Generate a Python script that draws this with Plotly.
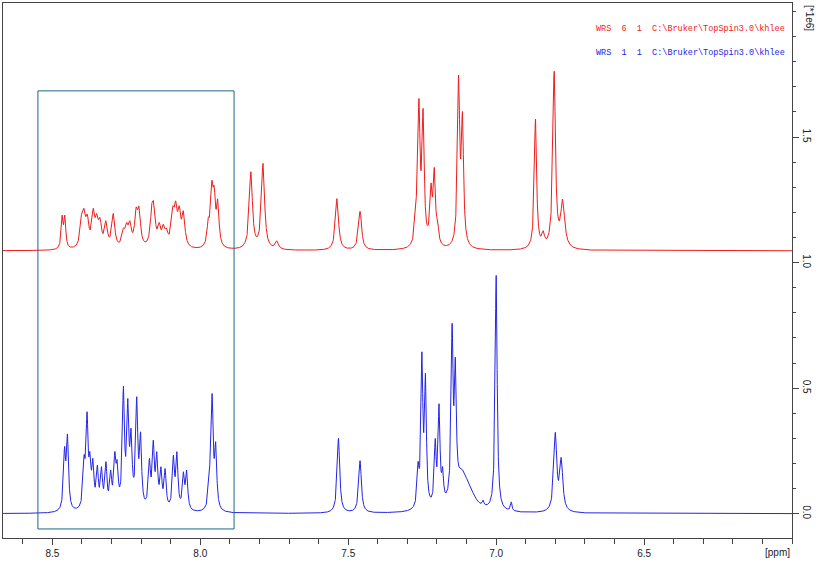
import numpy as np
import plotly.graph_objects as go

# ---------------- data (ppm, intensity [*1e6]) ----------------
red_label = "WRS\u00a0\u00a06\u00a0\u00a01\u00a0\u00a0C:\\Bruker\\TopSpin3.0\\khlee"
blue_label = "WRS\u00a0\u00a01\u00a0\u00a01\u00a0\u00a0C:\\Bruker\\TopSpin3.0\\khlee"

red_offset = 1.047
red_ppm = [8.467, 8.458, 8.401, 8.393, 8.382, 8.362, 8.350, 8.339, 8.319, 8.294,
           8.260, 8.249, 8.238, 8.217, 8.207, 8.164, 8.157, 8.139, 8.125, 8.114,
           8.093, 8.083, 8.071, 8.057, 7.973, 7.961, 7.953, 7.941,
           7.829, 7.788, 7.741, 7.538, 7.460,
           7.271, 7.261, 7.247, 7.232, 7.220, 7.209, 7.198, 7.127, 7.114,
           6.875, 6.867, 6.841, 6.804, 6.775]
red_height = [0.142, 0.142, 0.153, 0.169, 0.146, 0.169, 0.149, 0.133, 0.120, 0.149,
              0.090, 0.113, 0.120, 0.173, 0.177, 0.186, 0.195, 0.113, 0.106, 0.090,
              0.177, 0.199, 0.179, 0.159, 0.133, 0.279, 0.259, 0.206,
              0.315, 0.348, 0.040, 0.208, 0.157,
              0.199, 0.607, 0.567, 0.100, 0.270, 0.332, 0.126, 0.700, 0.554,
              0.106, 0.525, 0.080, 0.716, 0.206]
red_width = [0.0038, 0.0038] + [0.0060] * 22 + [0.0050] * 4 + [0.0062] * 5 + \
            [0.0045] * 9 + [0.0050, 0.0045, 0.0055, 0.0052, 0.0080]

blue_offset = 0.0
blue_ppm = [8.459, 8.449, 8.393, 8.383, 8.373, 8.363, 8.348, 8.334, 8.319, 8.303,
            8.289, 8.281, 8.260, 8.245, 8.234, 8.215, 8.202, 8.172, 8.159, 8.147,
            8.133, 8.119, 8.091, 8.079, 8.057, 8.046, 7.969, 7.960, 7.948,
            7.533, 7.460,
            7.264, 7.251, 7.239, 7.206, 7.193, 7.181, 7.149, 7.138, 7.114, 7.085,
            7.044, 7.000, 6.949, 6.800, 6.780]
blue_height = [0.267, 0.317, 0.233, 0.406, 0.247, 0.220, 0.194, 0.187, 0.207, 0.174,
               0.247, 0.214, 0.508, 0.459, 0.340, 0.466, 0.326, 0.220, 0.293, 0.247,
               0.187, 0.180, 0.233, 0.247, 0.167, 0.174, 0.180, 0.479, 0.286,
               0.300, 0.211,
               0.207, 0.645, 0.559, 0.300, 0.439, 0.187, 0.758, 0.623, 0.175, 0.100,
               0.054, 0.950, 0.047, 0.324, 0.224]
blue_width = [0.0042] * 29 + [0.0050, 0.0052] + [0.0038] * 8 + [0.026, 0.022] + \
             [0.0030, 0.0040, 0.0030, 0.0058, 0.0062]

box_ppm = [8.549, 7.886]
box_int = [-0.061, 1.684]

x_range = [8.667, 6.0]
y_range = [-0.097, 2.034]


def spectrum(ppm, height, width, offset, grid):
    p = np.array(ppm)
    h = np.array(height)
    w = np.array(width)
    A = 1.0 / (1.0 + ((p[:, None] - p[None, :]) / w[None, :]) ** 2)
    a = h.copy()
    for _ in range(400):
        a = np.clip(a + 0.5 * (h - A @ a), 0.0, None)
    L = 1.0 / (1.0 + ((grid[:, None] - p[None, :]) / w[None, :]) ** 2)
    return offset + L @ a


grid = np.linspace(x_range[1], x_range[0], 6000)
red_y = spectrum(red_ppm, red_height, red_width, red_offset, grid)
blue_y = spectrum(blue_ppm, blue_height, blue_width, blue_offset, grid)

fig = go.Figure()
fig.add_trace(go.Scatter(x=grid, y=blue_y, mode="lines",
                         line=dict(color="#2424e6", width=1), showlegend=False))
fig.add_trace(go.Scatter(x=grid, y=red_y, mode="lines",
                         line=dict(color="#f01c1c", width=1), showlegend=False))

fig.add_shape(type="rect", xref="x", yref="y",
              x0=box_ppm[0], x1=box_ppm[1], y0=box_int[0], y1=box_int[1],
              line=dict(color="#1d6688", width=1))

fig.add_annotation(xref="paper", yref="paper", x=0.9937, y=0.9514,
                   text=red_label, showarrow=False, xanchor="right", yanchor="middle",
                   font=dict(family="Liberation Mono", size=8.5, color="#f01c1c"))
fig.add_annotation(xref="paper", yref="paper", x=0.9937, y=0.9065,
                   text=blue_label, showarrow=False, xanchor="right", yanchor="middle",
                   font=dict(family="Liberation Mono", size=8.5, color="#2424e6"))
fig.add_annotation(xref="paper", yref="paper", x=0.982, y=-0.028,
                   text="[ppm]", showarrow=False, xanchor="center", yanchor="middle",
                   font=dict(family="Liberation Sans", size=10, color="#222222"))
fig.add_annotation(xref="paper", yref="paper", x=1.0215, y=0.972,
                   text="[*1e6]", showarrow=False, textangle=90,
                   xanchor="center", yanchor="middle",
                   font=dict(family="Liberation Sans", size=10, color="#222222"))

fig.update_layout(
    width=831, height=567,
    margin=dict(l=3, r=39, t=3, b=29),
    paper_bgcolor="white", plot_bgcolor="white",
    font=dict(family="Liberation Sans", size=10, color="#222222"),
)
fig.update_xaxes(range=x_range, showgrid=False, zeroline=False,
                 showline=True, linecolor="#444444", linewidth=1, mirror=True,
                 ticks="outside", ticklen=6, tickcolor="#444444",
                 tickmode="array", tickvals=[8.5, 8.0, 7.5, 7.0, 6.5],
                 ticktext=["8.5", "8.0", "7.5", "7.0", "6.5"],
                 minor=dict(dtick=0.1, tick0=0, ticks="outside", ticklen=5, tickcolor="#444444"))
fig.update_yaxes(range=y_range, side="right", showgrid=False, zeroline=False,
                 showline=True, linecolor="#444444", linewidth=1, mirror=True,
                 ticks="outside", ticklen=6, tickcolor="#444444",
                 tickmode="array", tickvals=[0.0, 0.5, 1.0, 1.5],
                 ticktext=["0.0", "0.5", "1.0", "1.5"], tickangle=90,
                 minor=dict(dtick=0.1, tick0=0, ticks="outside", ticklen=3, tickcolor="#444444"))

fig.write_html("out.html")
